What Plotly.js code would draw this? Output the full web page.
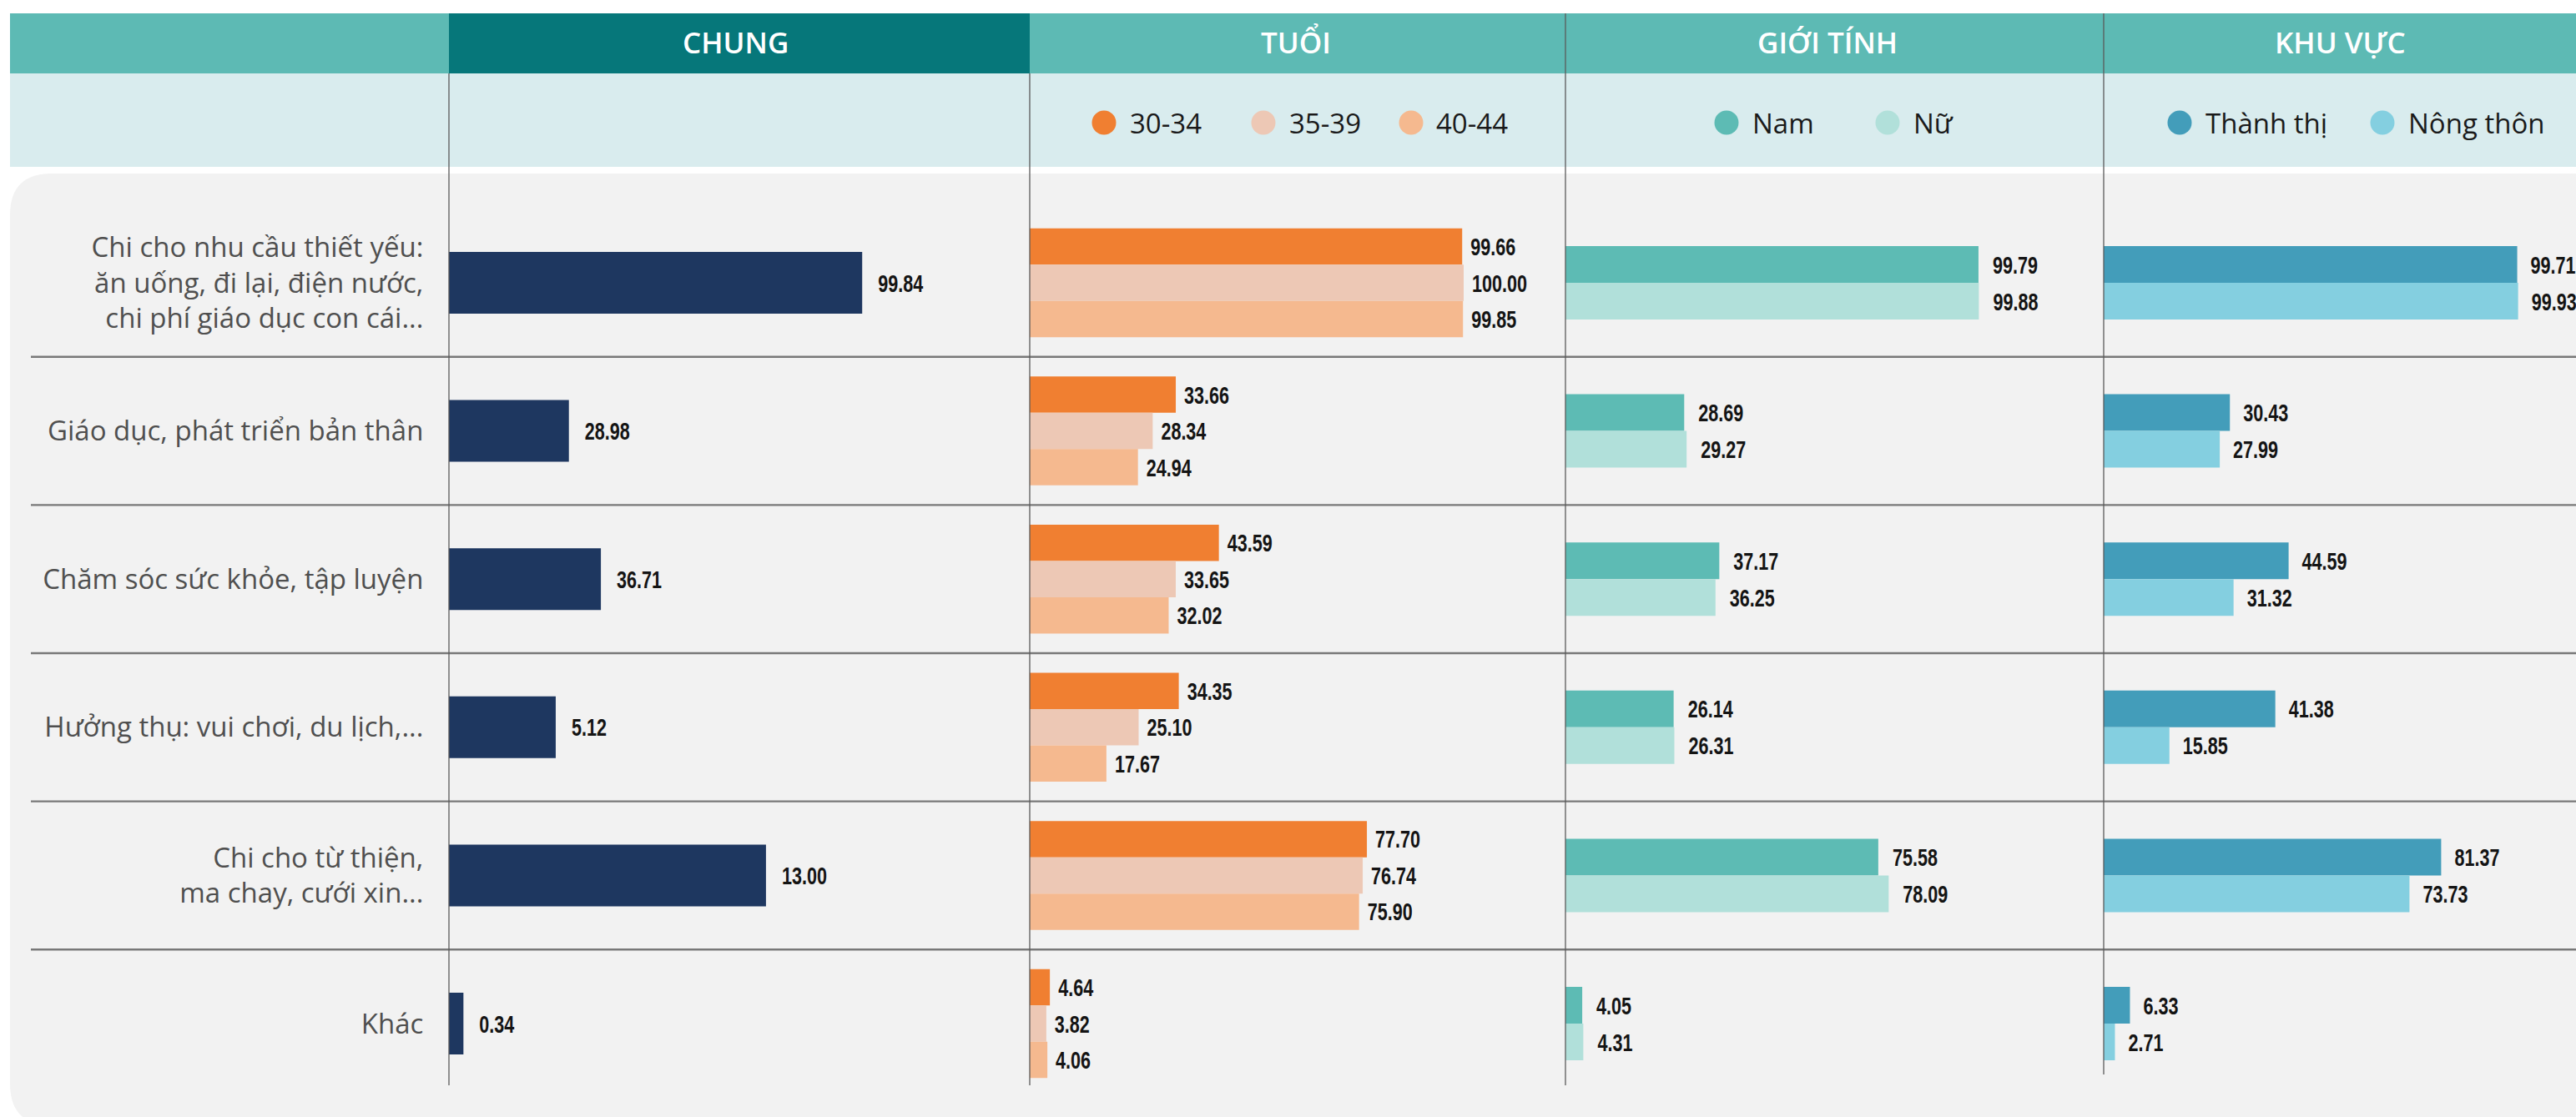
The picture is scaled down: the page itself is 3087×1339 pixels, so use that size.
<!DOCTYPE html>
<html>
<head>
<meta charset="utf-8">
<script src="https://cdn.plot.ly/plotly-3.0.1.min.js"></script>
<style>
html,body{margin:0;padding:0;background:#ffffff;overflow:hidden;}
#chart{width:3087px;height:1339px;}
</style>
</head>
<body>
<div id="chart"></div>
<script>
// ---------- DATA ----------
const categories = [
  'Chi cho nhu cầu thiết yếu:<br>ăn uống, đi lại, điện nước,<br>chi phí giáo dục con cái...',
  'Giáo dục, phát triển bản thân',
  'Chăm sóc sức khỏe, tập luyện',
  'Hưởng thụ: vui chơi, du lịch,...',
  'Chi cho từ thiện,<br>ma chay, cưới xin...',
  'Khác'
];
const columnTitles = ['CHUNG', 'TUỔI', 'GIỚI TÍNH', 'KHU VỰC'];

// CHUNG: bar lengths as drawn, and the labels printed next to them
const chungBar   = [99.84, 28.98, 36.71, 25.8, 76.6, 3.5];
const chungLabel = ['99.84', '28.98', '36.71', '5.12', '13.00', '0.34'];

const ageNames = ['30-34', '35-39', '40-44'];
const age3034 = [99.66, 33.66, 43.59, 34.35, 77.70, 4.64];
const age3539 = [100.00, 28.34, 33.65, 25.10, 76.74, 3.82];
const age4044 = [99.85, 24.94, 32.02, 17.67, 75.90, 4.06];

const genderNames = ['Nam', 'Nữ'];
const nam = [99.79, 28.69, 37.17, 26.14, 75.58, 4.05];
const nu  = [99.88, 29.27, 36.25, 26.31, 78.09, 4.31];

const areaNames = ['Thành thị', 'Nông thôn'];
const thanhThi = [99.71, 30.43, 44.59, 41.38, 81.37, 6.33];
const nongThon = [99.93, 27.99, 31.32, 15.85, 73.73, 2.71];

// ---------- STYLE / LAYOUT HELPERS ----------
const W = 3087, H = 1339;
const X = p => p / W;
const Y = p => 1 - p / H;

const navy = '#1e3760';
const ageColors = ['#f07f31', '#edc8b5', '#f5b98f'];
const genderColors = ['#5dbbb4', '#b1e0da'];
const areaColors = ['#439dba', '#84cfe0'];
const headTeal = '#5dbab4', headDark = '#06777a', subBg = '#d9ecee', panelBg = '#f2f2f2';

const rowPx = 177.6, firstRowPx = 339;
const yRange = [(H - firstRowPx) / rowPx, -firstRowPx / rowPx];

const colEdges = [538, 1234, 1876, 2521, 3087];
const pxPerUnit = [4.96, 5.2, 4.96, 4.97];
const valuePad = [16, 7, 14, 13];        // extra gap between bar end and its value, per column
const valueFamily = 'Liberation Sans';
const valueFont = {family: valueFamily + ', Arial, sans-serif', size: 30, color: '#141414', weight: 700};
const labelFontFamily = 'Open Sans, Noto Sans, sans-serif';

function barTrace(axis, vals, texts, color, width, offset) {
  return {
    type: 'bar', orientation: 'h',
    x: vals, y: categories,
    xaxis: axis, yaxis: 'y',
    marker: {color: color, line: {width: 0}},
    width: width, offset: offset,
    text: texts, texttemplate: '%{text}',
    textposition: 'outside', cliponaxis: false, constraintext: 'none',
    textfont: valueFont, outsidetextfont: valueFont,
    hoverinfo: 'skip', showlegend: false
  };
}
const fmt = arr => arr.map(v => v.toFixed(2));

const traces = [];
// CHUNG
const wC = 74 / rowPx;
traces.push(barTrace('x', chungBar, chungLabel, navy, wC, -wC / 2));
// TUỔI
const wA = 43.5 / rowPx;
[age3034, age3539, age4044].forEach((arr, i) => {
  traces.push(barTrace('x2', arr, fmt(arr), ageColors[i], wA, -1.5 * wA + i * wA));
});
// GIỚI TÍNH
const wG = 44 / rowPx;
[nam, nu].forEach((arr, i) => {
  traces.push(barTrace('x3', arr, fmt(arr), genderColors[i], wG, -wG + i * wG));
});
// KHU VỰC
[thanhThi, nongThon].forEach((arr, i) => {
  traces.push(barTrace('x4', arr, fmt(arr), areaColors[i], wG, -wG + i * wG));
});

// ---------- SHAPES ----------
const shapes = [];
const rect = (x0, y0, x1, y1, fill) => ({type: 'rect', xref: 'paper', yref: 'paper',
  x0: X(x0), x1: X(x1), y0: Y(y1), y1: Y(y0), fillcolor: fill, line: {width: 0}, layer: 'below'});
// panel with rounded left corners
const r = 50, pl = 12, pt = 208, pr = 3100, pb = 1339;
shapes.push({type: 'path', xref: 'paper', yref: 'paper', layer: 'below', fillcolor: panelBg, line: {width: 0},
  path: `M ${X(pl)},${Y(pt + r)} Q ${X(pl)},${Y(pt)} ${X(pl + r)},${Y(pt)} L ${X(pr)},${Y(pt)} L ${X(pr)},${Y(pb + 10)} L ${X(pl + r)},${Y(pb + 10)} Q ${X(pl)},${Y(pb + 10)} ${X(pl)},${Y(pb + 10 - r)} Z`});
shapes.push(rect(12, 16, 3087, 88, headTeal));
shapes.push(rect(538, 16, 1234, 88, headDark));
shapes.push(rect(12, 88, 3087, 200, subBg));

// row dividers (between categories)
for (let i = 0; i < categories.length - 1; i++) {
  shapes.push({type: 'line', xref: 'paper', yref: 'y', x0: X(37), x1: 1, y0: i + 0.5, y1: i + 0.5,
    line: {color: '#787878', width: 2.4}, layer: 'above'});
}
// column lines
const colLineTops = [88, 88, 16, 16];
const colLineBottoms = [1301, 1301, 1301, 1288];
for (let i = 0; i < 4; i++) {
  shapes.push({type: 'line', xref: 'paper', yref: 'paper', x0: X(colEdges[i]), x1: X(colEdges[i]),
    y0: Y(colLineTops[i]), y1: Y(colLineBottoms[i]), line: {color: '#5a5a5a', width: 1.3}, layer: 'above'});
}

// ---------- ANNOTATIONS ----------
const annotations = [];
const titleCenters = [881, 1553, 2190, 2804];
columnTitles.forEach((t, i) => {
  annotations.push({xref: 'paper', yref: 'paper', x: X(titleCenters[i]), y: Y(51), text: t, showarrow: false,
    xanchor: 'center', yanchor: 'middle',
    font: {family: labelFontFamily, size: 35, color: '#ffffff', weight: 600}});
});

// legends (circle + label) in the sub-header band
const legendGroups = [
  {names: ageNames, colors: ageColors, centers: [1323, 1514, 1691]},
  {names: genderNames, colors: genderColors, centers: [2069, 2262]},
  {names: areaNames, colors: areaColors, centers: [2612, 2855]}
];
const legY = 147, rad = 14.5;
legendGroups.forEach(g => {
  g.names.forEach((n, i) => {
    const cx = g.centers[i];
    shapes.push({type: 'circle', xref: 'paper', yref: 'paper', x0: X(cx - rad), x1: X(cx + rad),
      y0: Y(legY + rad), y1: Y(legY - rad), fillcolor: g.colors[i], line: {width: 0}, layer: 'above'});
    annotations.push({xref: 'paper', yref: 'paper', x: X(cx + rad + 14), y: Y(legY), text: n, showarrow: false,
      xanchor: 'left', yanchor: 'middle',
      font: {family: labelFontFamily, size: 33, color: '#1a1a1a'}});
  });
});

// ---------- AXES ----------
function xAxis(i) {
  const span = colEdges[i + 1] - colEdges[i];
  return {domain: [X(colEdges[i]), X(colEdges[i + 1])], range: [0, span / pxPerUnit[i]],
    visible: false, showgrid: false, zeroline: false, anchor: 'y', fixedrange: true};
}

const layout = {
  width: W, height: H,
  margin: {l: 0, r: 0, t: 0, b: 0, pad: 0},
  paper_bgcolor: '#ffffff', plot_bgcolor: 'rgba(0,0,0,0)',
  showlegend: false, barmode: 'overlay',
  xaxis: xAxis(0), xaxis2: xAxis(1), xaxis3: xAxis(2), xaxis4: xAxis(3),
  yaxis: {
    domain: [0, 1], type: 'category', categoryorder: 'array', categoryarray: categories,
    range: yRange, showgrid: false, zeroline: false, showline: false,
    ticks: 'outside', ticklen: 23, tickcolor: 'rgba(0,0,0,0)',
    tickfont: {family: labelFontFamily, size: 33, color: '#4f4f4f'},
    anchor: 'x', fixedrange: true
  },
  shapes: shapes,
  annotations: annotations
};

Plotly.newPlot('chart', traces, layout, {displayModeBar: false, staticPlot: true}).then(gd => {
  // the reference prints its values in a narrow condensed face: compress horizontally
  const ctx = document.createElement('canvas').getContext('2d');
  ctx.font = 'bold 30px "' + valueFamily + '", Arial, sans-serif';
  const k = 54 / ctx.measureText('99.84').width;
  gd.querySelectorAll('text.bartext').forEach(t => {
    const bb = t.getBBox();
    const left = t.getBoundingClientRect().left;
    let col = 0;
    for (let i = 1; i < 4; i++) if (left > colEdges[i]) col = i;
    const tr = t.getAttribute('transform') || '';
    t.setAttribute('transform', tr + ' translate(' + (bb.x + valuePad[col]) + ',0) scale(' + k + ',1) translate(' + (-bb.x) + ',0)');
  });
});
</script>
</body>
</html>
